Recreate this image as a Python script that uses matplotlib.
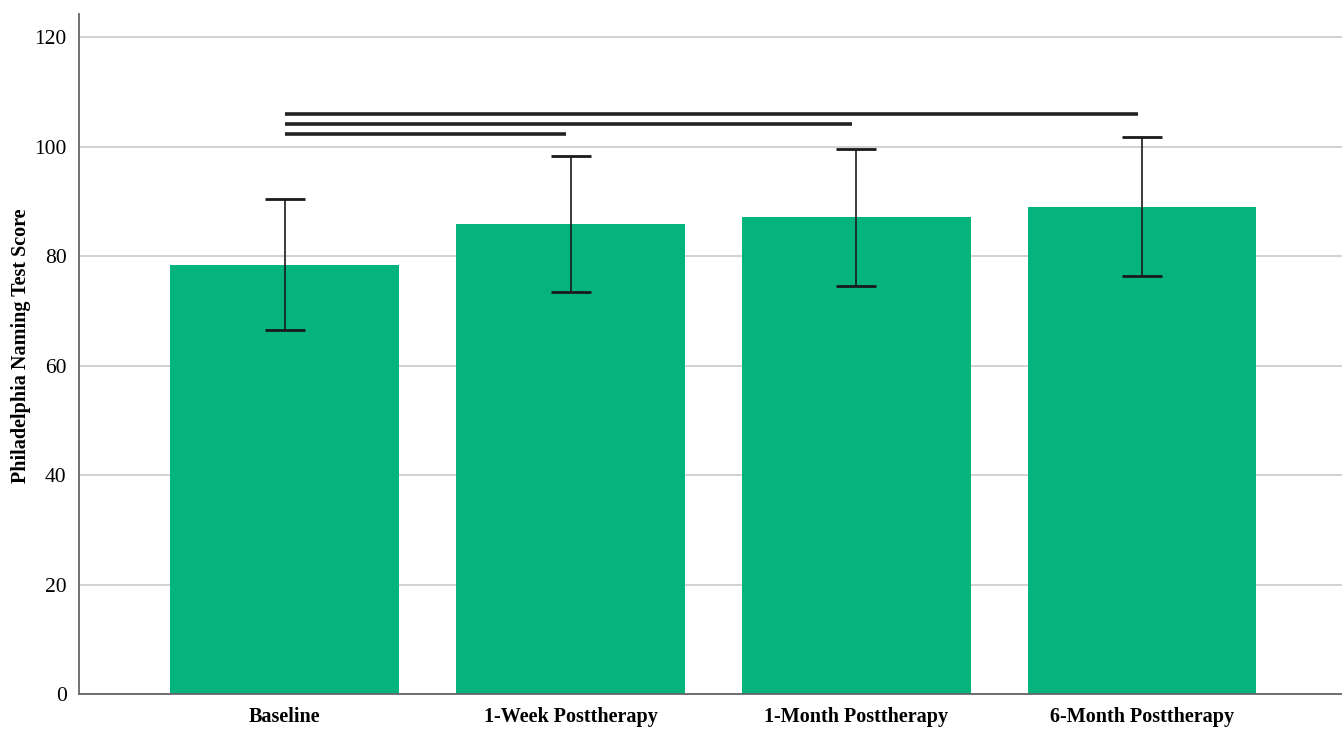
import matplotlib
matplotlib.use("Agg")
import matplotlib.pyplot as plt
import numpy as np

categories = ["Baseline", "1-Week Posttherapy", "1-Month Posttherapy", "6-Month Posttherapy"]
means = [78.4, 85.8, 87.1, 88.9]
err_low = [11.9, 12.4, 12.6, 12.6]
err_high = [12.0, 12.5, 12.4, 12.8]
sig_pairs = [(0, 1), (0, 2), (0, 3)]
sig_levels = [102.3, 104.1, 105.9]
yticks = [0, 20, 40, 60, 80, 100, 120]

plt.rcParams['font.family'] = ['Liberation Serif', 'DejaVu Serif']

fig = plt.figure(figsize=(13.42, 7.30), dpi=100)
ax = fig.add_axes([0.0589, 0.0493, 0.9411, 0.9315])

x = np.arange(len(categories))
ax.bar(x, means, width=0.8, color='#05b47c', zorder=2)
ax.errorbar(x, means, yerr=[err_low, err_high], fmt='none', ecolor='#1a1a1a',
            elinewidth=1.2, capsize=14.5, capthick=2, zorder=3)

for (a, b), lvl in zip(sig_pairs, sig_levels):
    ax.plot([a, b - 0.015], [lvl, lvl], color='#222222', lw=2.6, solid_capstyle='butt', zorder=4)

ax.set_xlim(-0.72, 3.70)
ax.set_ylim(0, 124.2)
ax.set_yticks(yticks)
ax.set_yticklabels([str(t) for t in yticks], fontsize=15.5)
ax.set_xticks(x)
ax.set_xticklabels(categories, fontsize=14.5, fontweight='bold')
ax.tick_params(axis='both', length=0, pad=9)
ax.tick_params(axis='x', pad=9)
ax.yaxis.grid(True, color='#cfcfcf', lw=1.3, zorder=0)
ax.set_axisbelow(True)
for s in ['top', 'right']:
    ax.spines[s].set_visible(False)
for s in ['left', 'bottom']:
    ax.spines[s].set_color('#666666')
    ax.spines[s].set_linewidth(1.3)
ax.set_ylabel('Philadelphia Naming Test Score', fontsize=14.5, fontweight='bold')
ax.yaxis.set_label_coords(-0.038, 0.512)

fig.savefig('out.png', dpi=100)
